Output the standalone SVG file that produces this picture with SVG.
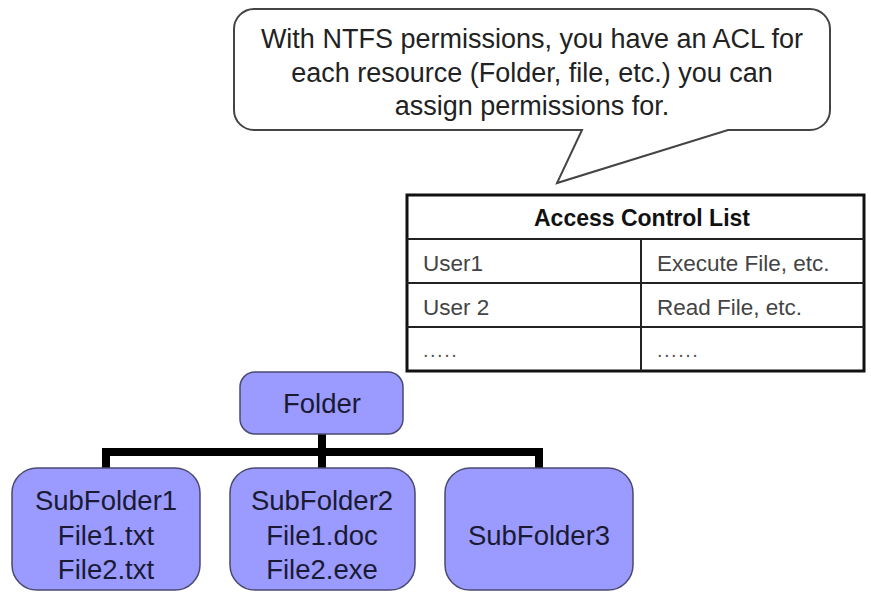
<svg xmlns="http://www.w3.org/2000/svg" width="871" height="594" viewBox="0 0 871 594">
<defs>
<style>
.t{font-family:"Liberation Sans",Arial,sans-serif;}
.callout{fill:#fff;stroke:#444;stroke-width:2;}
.ctext{font-size:27px;fill:#222;text-anchor:middle;}
.tbl{fill:#fff;stroke:#111;stroke-width:3;}
.grid{stroke:#222;stroke-width:2;fill:none;}
.hdr{font-size:23px;font-weight:bold;fill:#111;text-anchor:middle;}
.cell{font-size:22.5px;fill:#444;}
.dots{font-size:20px;fill:#555;letter-spacing:1.5px;}
.node{fill:#9a9aff;stroke:#4a4a70;stroke-width:1.5;}
.ntext{font-size:27.5px;fill:#1a1a33;text-anchor:middle;}
.conn{stroke:#000;stroke-width:8;fill:none;stroke-linecap:butt;stroke-linejoin:miter;}
</style>
</defs>
<rect width="871" height="594" fill="#fff"/>
<g id="callout">
<path class="callout" d="M254,9 H810 A20,20 0 0 1 830,29 V110 A20,20 0 0 1 810,130 H728 L557,183 L582,130 H254 A20,20 0 0 1 234,110 V29 A20,20 0 0 1 254,9 Z"/>
<text class="t ctext" x="532" y="48">With NTFS permissions, you have an ACL for</text>
<text class="t ctext" x="532" y="82">each resource (Folder, file, etc.) you can</text>
<text class="t ctext" x="532" y="115">assign permissions for.</text>
</g>
<g id="acl">
<rect class="tbl" x="407" y="195" width="457" height="176"/>
<path class="grid" d="M407,239 H864 M407,283 H864 M407,327 H864 M641,239 V371"/>
<text class="t hdr" x="642" y="226">Access Control List</text>
<text class="t cell" x="423" y="271">User1</text>
<text class="t cell" x="657" y="271">Execute File, etc.</text>
<text class="t cell" x="423" y="315">User 2</text>
<text class="t cell" x="657" y="315">Read File, etc.</text>
<text class="t dots" x="423" y="357">.....</text>
<text class="t dots" x="657" y="357">......</text>
</g>
<g id="connectors">
<path class="conn" d="M322,434 V452 M102,452 H543 M106,452 V468 M322,452 V468 M539,452 V468"/>
</g>
<g id="folder">
<rect class="node" x="240" y="372" width="163" height="62" rx="15"/>
<text class="t ntext" x="322" y="413">Folder</text>
</g>
<g id="subfolder1">
<rect class="node" x="12" y="468" width="188" height="122" rx="25"/>
<text class="t ntext" x="106" y="510">SubFolder1</text>
<text class="t ntext" x="106" y="545">File1.txt</text>
<text class="t ntext" x="106" y="579">File2.txt</text>
</g>
<g id="subfolder2">
<rect class="node" x="230" y="468" width="185" height="122" rx="25"/>
<text class="t ntext" x="322" y="510">SubFolder2</text>
<text class="t ntext" x="322" y="545">File1.doc</text>
<text class="t ntext" x="322" y="579">File2.exe</text>
</g>
<g id="subfolder3">
<rect class="node" x="445" y="468" width="188" height="122" rx="25"/>
<text class="t ntext" x="539" y="545">SubFolder3</text>
</g>
</svg>
